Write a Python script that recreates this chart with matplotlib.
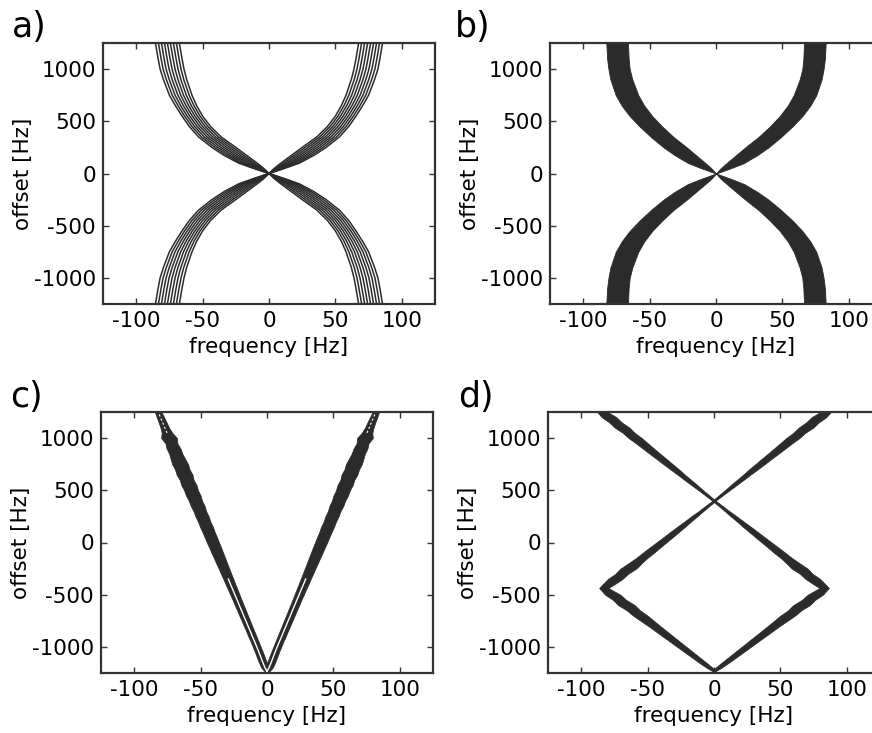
import numpy as np
import matplotlib.pyplot as plt

plt.rcParams['axes.unicode_minus'] = False

# a) and b): upper-right branch of the band, mirrored into the other three
ab_offset = [0, 50, 100, 175, 250, 350, 450, 550, 650, 750, 900, 1000, 1100, 1250]
a_inner = [0, 4, 9, 17, 25, 36, 44, 50, 54.5, 58, 62, 64, 65.5, 67.5]
a_outer = [0, 12, 23, 34, 43, 53, 60, 65.5, 70.5, 75, 79.5, 82, 83.5, 85.5]
b_inner = [0, 3.5, 8, 15, 22, 32, 40.5, 48, 54, 58.5, 63, 65, 65.8, 66.3]
b_outer = [0, 11, 21, 31, 39.5, 49, 57.5, 65, 71, 75.5, 79.5, 81, 82, 82.6]

# c): right branch of the V (centre and total width), mirrored to the left
c_offset = [-1240, -1220, -1200, -1150, -1100, -1050, -1000, -950, -900, -850,
            -800, -750, -700, -650, -600, -550, -500, -450, -400, -350,
            -300, -250, -200, -150, -100, -50, 0, 50, 100, 150,
            200, 250, 300, 350, 400, 450, 500, 550, 600, 650,
            700, 750, 800, 850, 900, 950, 1000, 1050, 1100, 1150,
            1200, 1250]
c_center = [0.0, 0.6, 1.5, 3.1, 4.6, 6.1, 7.7, 9.3, 11.0, 12.6,
            14.3, 15.9, 17.6, 19.2, 20.9, 22.5, 24.2, 25.8, 27.5, 29.1,
            30.8, 32.4, 34.1, 35.7, 37.4, 39.0, 40.7, 42.3, 44.0, 45.6,
            47.3, 48.9, 50.6, 52.2, 53.9, 55.5, 57.2, 58.8, 60.5, 62.1,
            63.8, 65.4, 67.1, 68.7, 70.4, 72.0, 73.7, 75.3, 77.0, 78.6,
            80.3, 81.9]
c_width = [2.5, 4.5, 5.5, 6, 6, 6, 6, 6, 6.2, 6.2,
           6.3, 6.4, 6.5, 6.6, 6.7, 6.8, 7, 7.2, 7.4, 7.6,
           7.8, 8, 8.3, 8.5, 8.8, 9, 9.2, 9.3, 9.3, 9.8,
           9.3, 10, 9.5, 10.5, 10, 11, 10.5, 11.5, 10.5, 12,
           11, 12, 11, 10, 10.5, 9, 12, 8, 6.5, 6,
           5.5, 5]

# d): right half of the zig-zag (centre and total width), mirrored to the left
d_offset = [-1232, -1200, -1150, -1100, -1050, -1000, -950, -900, -850, -800,
            -750, -700, -650, -600, -550, -500, -436, -400, -350, -300,
            -250, -200, -150, -100, -50, 0, 50, 100, 150, 200,
            250, 300, 350, 400, 450, 500, 550, 600, 650, 700,
            750, 800, 850, 900, 950, 1000, 1050, 1100, 1150, 1200,
            1250]
d_center = [0, 3.3, 8.6, 13.8, 19.0, 24.2, 29.4, 34.6, 39.8, 45.0,
            50.3, 55.5, 60.7, 65.9, 71.1, 76.3, 83.0, 79.4, 74.5, 69.5,
            64.5, 59.6, 54.6, 49.6, 44.7, 39.7, 34.7, 29.8, 24.8, 19.9,
            14.9, 9.9, 5.0, 0, 4.9, 9.9, 14.8, 19.8, 24.7, 29.6,
            34.6, 39.5, 44.5, 49.4, 54.3, 59.3, 64.2, 69.2, 74.1, 79.0,
            84.0]
d_width = [2.5, 4.5, 5.5, 6, 6.5, 7, 7.5, 8, 8.5, 9,
           10, 11, 10, 12.5, 10, 11.5, 7, 9, 11, 9.5,
           12, 10, 8.5, 8.5, 8, 7.5, 7, 6.5, 6, 5,
           4.5, 3.5, 3, 2.5, 3, 3.5, 4.5, 5, 5.5, 6.5,
           7, 7.5, 8, 8.5, 9, 10, 9, 11, 9.5, 11,
           8]

freq_ticks = [-100, -50, 0, 50, 100]
offset_ticks = [-1000, -500, 0, 500, 1000]
panel_names = ['a)', 'b)', 'c)', 'd)']

ink = '#2b2b2b'
frame = '#333333'

fig = plt.figure(figsize=(8.72, 7.33), dpi=100)
w, h = 332 / 872, 261 / 733
axa = fig.add_axes([103 / 872, 1 - 304 / 733, w, h])
axb = fig.add_axes([550 / 872, 1 - 304 / 733, w, h])
axc = fig.add_axes([101 / 872, 1 - 673 / 733, w, h])
axd = fig.add_axes([548 / 872, 1 - 673 / 733, w, h])

# mirror the upper branch of a)/b) to the lower half
off = np.array(ab_offset, dtype=float)
y_full = np.concatenate([-off[::-1], off])

def both_halves(v):
    v = np.array(v, dtype=float)
    return np.concatenate([v[::-1], v])

# a) contour lines
ai, ao = both_halves(a_inner), both_halves(a_outer)
for k in range(9):
    x = ai + (ao - ai) * k / 8
    axa.plot(x, y_full, color=ink, lw=1.1)
    axa.plot(-x, y_full, color=ink, lw=1.1)

# b) filled band
bi, bo = both_halves(b_inner), both_halves(b_outer)
axb.fill_betweenx(y_full, bi, bo, color=ink, lw=0.6, edgecolor=ink)
axb.fill_betweenx(y_full, -bo, -bi, color=ink, lw=0.6, edgecolor=ink)

# c) V shape, hollow along the middle at the bottom and top
cy = np.array(c_offset, dtype=float)
cc = np.array(c_center)
cw = np.array(c_width)
for s in (1, -1):
    axc.fill_betweenx(cy, s * (cc - cw / 2), s * (cc + cw / 2), color=ink, lw=0.5, edgecolor=ink)
for s in (1, -1):
    axc.plot(np.where(cy <= -350, s * cc, np.nan), cy, color='white', lw=1.0)
    axc.plot(np.where(cy >= 1050, s * cc, np.nan), cy, color='white', lw=0.8, ls=(0, (2, 2)))

# d) zig-zag
dy = np.array(d_offset, dtype=float)
dc = np.array(d_center)
dw = np.array(d_width)
for s in (1, -1):
    axd.fill_betweenx(dy, s * (dc - dw / 2), s * (dc + dw / 2), color=ink, lw=0.5, edgecolor=ink)

for ax in (axa, axb, axc, axd):
    ax.set_xlim(-125, 125)
    ax.set_ylim(-1250, 1250)
    ax.set_xticks(freq_ticks)
    ax.set_yticks(offset_ticks)
    ax.tick_params(direction='in', top=True, right=True, length=4, width=1,
                   color=frame, labelsize=15.5, pad=5)
    for sp in ax.spines.values():
        sp.set_color(frame)
        sp.set_linewidth(1.6)
    ax.set_xlabel('frequency [Hz]', fontsize=15.5)
    ax.set_ylabel('offset [Hz]', fontsize=15.5)
    ax.xaxis.set_label_coords(0.5, -0.125)
    ax.yaxis.set_label_coords(-0.21, 0.5)

label_pos = [(12, 37), (455, 37), (10, 407), (458, 407)]
for name, (px, py) in zip(panel_names, label_pos):
    fig.text(px / 872, 1 - py / 733, name, fontsize=25, va='baseline', ha='left')

fig.savefig('out.png', dpi=100)
